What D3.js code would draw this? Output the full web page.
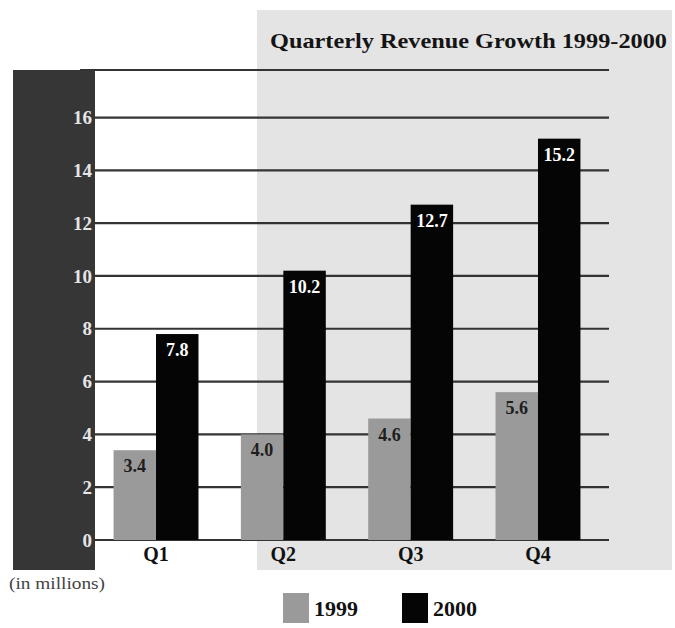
<!DOCTYPE html>
<html>
<head>
<meta charset="utf-8">
<script src="https://cdn.jsdelivr.net/npm/d3@7/dist/d3.min.js"></script>
<style>
  html, body { margin: 0; padding: 0; background: #fff; }
  svg { display: block; }
  text { font-family: "Liberation Serif", "Times New Roman", serif; }
</style>
</head>
<body>
<svg id="chart" width="675" height="628"></svg>
<script>
// Quarterly revenue, in millions
const quarters = ["Q1", "Q2", "Q3", "Q4"];
const years = ["1999", "2000"];
const revenue1999 = [3.4, 4.0, 4.6, 5.6];
const revenue2000 = [7.8, 10.2, 12.7, 15.2];
const yTicks = [0, 2, 4, 6, 8, 10, 12, 14, 16];
const yMax = 17.8;
const title = "Quarterly Revenue Growth 1999-2000";
const unitNote = "(in millions)";

const colors = { "1999": "#9a9a9a", "2000": "#050505" };
const labelColors = { "1999": "#1e1e1e", "2000": "#ffffff" };

const rows = quarters.map((q, i) => ({
  quarter: q,
  values: [
    { year: "1999", value: revenue1999[i] },
    { year: "2000", value: revenue2000[i] }
  ]
}));

const svg = d3.select("#chart");

const plot = { left: 95, right: 609, top: 70, bottom: 540 };

const x = d3.scaleBand()
  .domain(quarters)
  .range([90, 604])
  .paddingInner(0.333)
  .paddingOuter(0.185);

const xYear = d3.scaleBand()
  .domain(years)
  .range([0, x.bandwidth()])
  .padding(0);

const y = d3.scaleLinear()
  .domain([0, yMax])
  .range([plot.bottom, plot.top]);

// Light backdrop behind the later quarters and the title
svg.append("rect")
  .attr("x", 257).attr("y", 10)
  .attr("width", 415).attr("height", 560)
  .attr("fill", "#e4e4e4");

// Dark band carrying the value scale
svg.append("rect")
  .attr("x", 13).attr("y", plot.top)
  .attr("width", plot.left - 13).attr("height", 570 - plot.top)
  .attr("fill", "#363636");

// Horizontal rules
const grid = svg.append("g");
grid.selectAll("line.tick")
  .data(yTicks)
  .join("line")
  .attr("class", "tick")
  .attr("x1", plot.left).attr("x2", plot.right)
  .attr("y1", d => y(d)).attr("y2", d => y(d))
  .attr("stroke", "#333")
  .attr("stroke-width", 2.2);
grid.append("line")
  .attr("x1", 80).attr("x2", plot.right)
  .attr("y1", y(yMax)).attr("y2", y(yMax))
  .attr("stroke", "#333")
  .attr("stroke-width", 2.2);

// Value scale labels, via a D3 axis
const yAxis = d3.axisLeft(y)
  .tickValues(yTicks)
  .tickSize(0)
  .tickPadding(3)
  .tickFormat(d3.format("d"));
const yAxisG = svg.append("g")
  .attr("transform", `translate(${plot.left},0)`)
  .call(yAxis);
yAxisG.select(".domain").remove();
yAxisG.selectAll("text")
  .attr("fill", "#e6e6e6")
  .style("font-family", "'Liberation Serif', serif")
  .style("font-weight", "bold")
  .style("font-size", "19px");

// Bars
const groups = svg.append("g")
  .selectAll("g")
  .data(rows)
  .join("g")
  .attr("transform", d => `translate(${x(d.quarter)},0)`);

groups.selectAll("rect")
  .data(d => d.values)
  .join("rect")
  .attr("x", d => xYear(d.year))
  .attr("y", d => y(d.value))
  .attr("width", xYear.bandwidth())
  .attr("height", d => y(0) - y(d.value))
  .attr("fill", d => colors[d.year]);

groups.selectAll("text.value")
  .data(d => d.values)
  .join("text")
  .attr("class", "value")
  .attr("x", d => xYear(d.year) + xYear.bandwidth() / 2)
  .attr("y", d => y(d.value) + 22)
  .attr("text-anchor", "middle")
  .attr("fill", d => labelColors[d.year])
  .style("font-weight", "bold")
  .style("font-size", "18px")
  .text(d => d.value.toFixed(1));

// Quarter labels, via a D3 axis
const xAxis = d3.axisBottom(x).tickSize(0).tickPadding(7);
const xAxisG = svg.append("g")
  .attr("transform", `translate(0,${plot.bottom})`)
  .call(xAxis);
xAxisG.select(".domain").remove();
xAxisG.selectAll("text")
  .attr("fill", "#111")
  .style("font-family", "'Liberation Serif', serif")
  .style("font-weight", "bold")
  .style("font-size", "20px");

// Title
svg.append("text")
  .attr("x", 270).attr("y", 48)
  .attr("textLength", 397)
  .attr("lengthAdjust", "spacingAndGlyphs")
  .attr("fill", "#141414")
  .style("font-weight", "bold")
  .style("font-size", "22px")
  .text(title);

// Unit note
svg.append("text")
  .attr("x", 9).attr("y", 589)
  .attr("textLength", 96)
  .attr("lengthAdjust", "spacingAndGlyphs")
  .attr("fill", "#444")
  .style("font-size", "17px")
  .text(unitNote);

// Legend
const legend = svg.append("g")
  .selectAll("g")
  .data(years)
  .join("g")
  .attr("transform", (d, i) => `translate(${283 + i * 119},593)`);
legend.append("rect")
  .attr("width", 26).attr("height", 30)
  .attr("fill", d => colors[d]);
legend.append("text")
  .attr("x", 31).attr("y", 23)
  .attr("fill", "#111")
  .style("font-weight", "bold")
  .style("font-size", "22px")
  .text(d => d);
</script>
</body>
</html>
